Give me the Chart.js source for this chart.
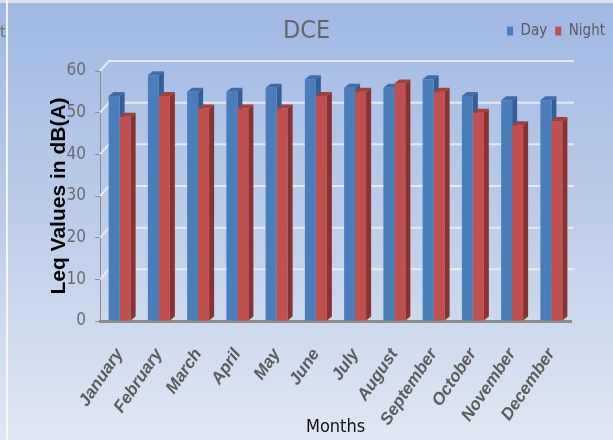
<!DOCTYPE html>
<html>
<head>
<meta charset="utf-8">
<script src="https://cdn.jsdelivr.net/npm/chart.js@4.4.1/dist/chart.umd.min.js"></script>
<style>
  html, body { margin: 0; padding: 0; background: #fff; }
</style>
</head>
<body>
<canvas id="myChart" width="613" height="440"></canvas>
<script>
// data
var months = ["January", "February", "March", "April", "May", "June", "July", "August", "September", "October", "November", "December"];
var dayValues = [54, 59, 55, 55, 56, 58, 56, 56, 58, 54, 53, 53];
var nightValues = [49, 54, 51, 51, 51, 54, 55, 57, 55, 50, 47, 48];
var yTicks = [0, 10, 20, 30, 40, 50, 60];

var narrow = '"Liberation Sans Narrow", "DejaVu Sans Condensed", "Liberation Sans", sans-serif';

// back wall grid lines
var backGrid = {
  id: "backGrid",
  beforeDatasetsDraw: function (chart) {
    var ctx = chart.ctx, y = chart.scales.y, area = chart.chartArea;
    ctx.save();
    ctx.strokeStyle = "rgba(236,239,244,0.9)";
    ctx.lineWidth = 2;
    yTicks.forEach(function (v) {
      if (v === 0) return;
      var py = y.getPixelForValue(v);
      ctx.beginPath();
      ctx.moveTo(area.left, py);
      ctx.lineTo(area.left + 9, py - 10);
      ctx.lineTo(area.right + 3, py - 10);
      ctx.stroke();
    });
    ctx.restore();
  }
};

// fake 3d: side and top faces of every bar
var depthX = 5, depthY = 4;
var faces = {
  "0": { side: "#335f97", top: "#3d6ca8" },
  "1": { side: "#8a322f", top: "#a63f3c" }
};
function drawFaces(chart, index) {
  var meta = chart.getDatasetMeta(index);
  var ctx = chart.ctx;
  var c = faces[index];
  ctx.save();
  meta.data.forEach(function (bar) {
    var p = bar.getProps(["x", "y", "width", "base"], true);
    var l = p.x - p.width / 2, r = p.x + p.width / 2;
    ctx.fillStyle = c.side;
    ctx.beginPath();
    ctx.moveTo(r, p.y);
    ctx.lineTo(r + depthX, p.y - depthY);
    ctx.lineTo(r + depthX, p.base - depthY);
    ctx.lineTo(r, p.base);
    ctx.closePath();
    ctx.fill();
    ctx.fillStyle = c.top;
    ctx.beginPath();
    ctx.moveTo(l, p.y);
    ctx.lineTo(l + depthX, p.y - depthY);
    ctx.lineTo(r + depthX, p.y - depthY);
    ctx.lineTo(r, p.y);
    ctx.closePath();
    ctx.fill();
  });
  ctx.restore();
}
var bars3d = {
  id: "bars3d",
  beforeDatasetsDraw: function (chart) {
    // day faces go behind the night bars
    drawFaces(chart, 0);
  },
  afterDatasetDraw: function (chart, args) {
    if (args.index === 1) drawFaces(chart, 1);
  }
};

var background = {
  id: "background",
  beforeDraw: function (chart) {
    var ctx = chart.ctx, w = chart.width, h = chart.height;
    ctx.save();
    var g = ctx.createLinearGradient(0, 0, 0, h);
    g.addColorStop(0, "#9fb8e3");
    g.addColorStop(0.5, "#bccde9");
    g.addColorStop(1, "#e0e7f4");
    ctx.fillStyle = g;
    ctx.fillRect(0, 0, w, h);
    ctx.fillStyle = "#dde1e8";
    ctx.fillRect(0, 0, w, 3);
    ctx.fillStyle = "rgba(250,250,252,0.9)";
    ctx.fillRect(6, 0, 2, h);
    ctx.fillStyle = "#6e6e6e";
    ctx.font = "16px " + narrow;
    ctx.fillText("t", 0, 33);
    ctx.restore();
  }
};

// extra room under the legend so the plot starts lower
var legendRoom = {
  id: "legendRoom",
  beforeInit: function (chart) {
    var fit = chart.legend.fit;
    chart.legend.fit = function () {
      fit.bind(chart.legend)();
      this.height = 55.5;
    };
  }
};

new Chart("myChart", {
  type: "bar",
  data: {
    labels: months,
    datasets: [{
      label: "Day",
      data: dayValues,
      backgroundColor: "#4a7ebb"
    }, {
      label: "Night",
      data: nightValues,
      backgroundColor: "#c0504d"
    }]
  },
  options: {
    responsive: false,
    animation: false,
    devicePixelRatio: 1,
    categoryPercentage: 0.56,
    barPercentage: 1.0,
    layout: { padding: 0 },
    plugins: {
      title: {
        display: true,
        text: "DCE",
        color: "#666",
        font: { family: narrow, size: 25, weight: "normal" },
        padding: { top: 16, bottom: -30.5 }
      },
      legend: {
        display: true,
        position: "top",
        align: "end",
        labels: {
          boxWidth: 6,
          boxHeight: 9,
          padding: 8,
          color: "#5a5a5a",
          font: { family: narrow, size: 15 }
        }
      },
      tooltip: { enabled: false }
    },
    scales: {
      x: {
        grid: { display: false },
        border: { display: true, color: "#8c8c8c", width: 3 },
        ticks: {
          minRotation: 56,
          maxRotation: 56,
          padding: 16,
          color: "#5c5c5c",
          font: { family: '"Liberation Sans", sans-serif', size: 17, weight: "bold", style: "italic" }
        },
        title: {
          display: true,
          text: "Months",
          color: "#111",
          font: { family: narrow, size: 18 },
          padding: { top: 0, bottom: 2 }
        },
        afterFit: function (s) {
          s.height = 119;
          s.paddingLeft = 0;
          s.paddingRight = 42;
        }
      },
      y: {
        min: 0,
        max: 60,
        afterBuildTicks: function (s) {
          s.ticks = yTicks.map(function (v) { return { value: v }; });
        },
        grid: { drawOnChartArea: false, color: "rgba(0,0,0,0)", tickColor: "#8c8c8c", tickLength: 5 },
        border: { display: true, color: "#8c8c8c", width: 1 },
        ticks: {
          padding: 9,
          color: "#6a6a6a",
          font: { family: narrow, size: 17 }
        },
        title: {
          display: true,
          text: "Leq Values in dB(A)",
          color: "#000",
          font: { family: '"Liberation Sans", sans-serif', size: 21, weight: "bold" },
          padding: { top: 47, bottom: 0 }
        },
        afterFit: function (s) { s.width = 100; }
      }
    }
  },
  plugins: [background, legendRoom, backGrid, bars3d]
});
</script>
</body>
</html>
